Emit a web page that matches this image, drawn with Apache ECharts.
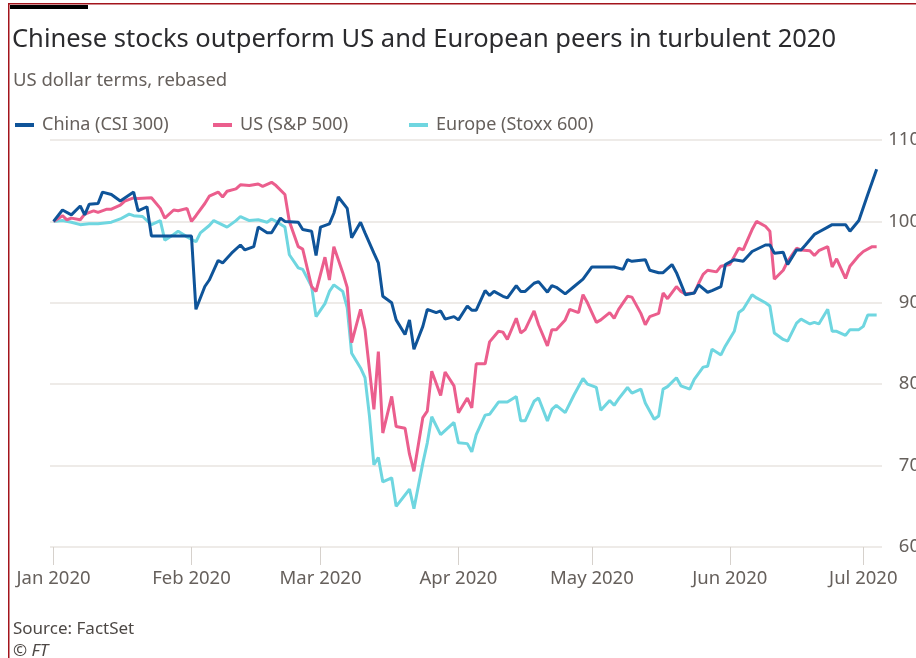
<!DOCTYPE html>
<html>
<head>
    <meta charset="utf-8">
    <title>Chinese stocks outperform US and European peers</title>
    <script src="https://cdn.jsdelivr.net/npm/echarts@6/dist/echarts.min.js"></script>
    <style>
        html, body { margin: 0; padding: 0; background: #fff; }
        #chart { width: 916px; height: 658px; }
    </style>
</head>
<body>
<div id="chart"></div>
<script>
    // month ticks (days since 1 Jan 2020) and their labels
    var monthTicks = [0, 31, 60, 91, 121, 152, 182];
    var monthLabels = ['Jan 2020', 'Feb 2020', 'Mar 2020', 'Apr 2020', 'May 2020', 'Jun 2020', 'Jul 2020'];

    // China (CSI 300), USD terms, rebased
    var chinaDates = ['01-01','01-03','01-05','01-07','01-08','01-09','01-11','01-12','01-14','01-16','01-19','01-20','01-22','01-23',
        '02-01','02-02','02-04','02-05','02-07','02-08','02-10','02-12','02-13','02-15','02-16','02-18','02-19','02-21','02-22','02-25','02-26','02-28','02-29',
        '03-01','03-03','03-04','03-05','03-07','03-08','03-10','03-11','03-13','03-14','03-15','03-17','03-18','03-20','03-21','03-22','03-24','03-25','03-27','03-28','03-29','03-31',
        '04-01','04-03','04-04','04-05','04-07','04-08','04-09','04-11','04-12','04-14','04-15','04-16','04-18','04-19','04-21','04-22','04-23','04-25','04-27','04-29',
        '05-01','05-06','05-08','05-09','05-10','05-13','05-14','05-16','05-17','05-19','05-20','05-22','05-24','05-25','05-27','05-28','05-30','05-31',
        '06-02','06-04','06-06','06-09','06-10','06-11','06-13','06-14','06-16','06-17','06-18','06-20','06-21','06-23','06-24','06-27','06-28','06-30',
        '07-02','07-04'];
    var chinaValues = [100, 101.4, 100.8, 101.9, 100.8, 102.1, 102.2, 103.6, 103.3, 102.5, 103.6, 101.3, 101.8, 98.2,
        98.2, 89.2, 92.0, 92.8, 95.2, 94.9, 96.1, 97.1, 96.5, 96.9, 99.3, 98.6, 98.6, 100.4, 100.0, 99.9, 99.0, 98.8, 95.8,
        99.3, 99.7, 101.0, 103.0, 101.6, 98.0, 99.9, 98.6, 96.1, 94.9, 90.8, 90.0, 87.9, 86.1, 87.9, 84.3, 87.1, 89.2, 88.8, 89.0, 88.0, 88.3,
        87.9, 89.6, 89.1, 89.1, 91.5, 90.9, 91.4, 90.8, 90.6, 92.1, 91.4, 91.4, 92.4, 92.6, 91.3, 92.1, 91.9, 91.1, 92.0, 92.9,
        94.4, 94.4, 94.1, 95.3, 95.1, 95.3, 94.0, 93.7, 93.7, 94.7, 93.7, 91.0, 91.2, 92.2, 91.3, 91.5, 92.0, 94.7,
        95.3, 95.1, 96.3, 97.1, 97.1, 96.1, 96.2, 94.7, 96.5, 96.5, 97.1, 98.4, 98.7, 99.3, 99.6, 99.6, 98.8, 100.1,
        103.3, 106.4];

    // US (S&P 500)
    var usDates = ['01-01','01-03','01-04','01-05','01-07','01-08','01-10','01-11','01-13','01-14','01-16','01-17','01-19','01-20','01-23','01-25','01-26','01-28','01-29','01-31',
        '02-01','02-02','02-04','02-05','02-07','02-08','02-09','02-11','02-12','02-14','02-16','02-17','02-19','02-20','02-22','02-23','02-25','02-26','02-28','02-29',
        '03-02','03-03','03-04','03-06','03-07','03-08','03-10','03-11','03-13','03-14','03-15','03-17','03-18','03-20','03-21','03-22','03-24','03-25','03-26','03-28','03-29','03-31',
        '04-01','04-03','04-04','04-05','04-07','04-08','04-10','04-11','04-12','04-14','04-15','04-16','04-18','04-19','04-21','04-22','04-23','04-25','04-26','04-28','04-29','04-30',
        '05-02','05-03','05-05','05-06','05-07','05-09','05-10','05-12','05-13','05-14','05-16','05-17','05-18','05-20','05-21','05-22','05-24','05-25','05-26','05-27','05-29','05-30',
        '06-01','06-02','06-03','06-04','06-06','06-07','06-09','06-10','06-11','06-13','06-14','06-16','06-17','06-19','06-20','06-21','06-23','06-24','06-25','06-27','06-28','06-30',
        '07-01','07-03','07-04'];
    var usValues = [100, 100.7, 100.2, 100.4, 100.2, 100.9, 101.3, 101.1, 101.5, 101.5, 102.0, 102.5, 102.9, 102.8, 102.9, 101.6, 100.4, 101.4, 101.3, 101.6,
        100.0, 100.7, 102.2, 103.1, 103.6, 103.0, 103.7, 104.0, 104.5, 104.4, 104.6, 104.3, 104.8, 104.4, 103.3, 100.0, 96.9, 96.6, 92.0, 91.4,
        95.6, 92.8, 96.9, 93.7, 91.9, 85.1, 89.2, 86.7, 76.9, 84.0, 74.0, 78.5, 74.8, 74.6, 71.4, 69.3, 75.9, 76.7, 81.6, 78.6, 81.5, 79.8,
        76.5, 78.3, 77.1, 82.5, 82.5, 85.2, 86.5, 86.4, 85.5, 88.1, 86.3, 86.7, 89.0, 87.3, 84.7, 86.7, 86.7, 87.9, 89.2, 88.8, 91.0, 90.0,
        87.6, 87.9, 88.8, 88.1, 89.2, 90.8, 90.7, 88.7, 87.3, 88.3, 88.7, 91.2, 90.5, 92.0, 91.4, 91.1, 91.2, 92.4, 93.5, 94.0, 93.8, 94.5,
        94.7, 95.7, 96.7, 96.5, 99.0, 100.0, 99.4, 98.8, 92.9, 94.0, 95.1, 96.7, 96.5, 96.4, 95.8, 96.4, 96.9, 94.4, 95.4, 93.0, 94.5, 95.8,
        96.3, 96.9, 96.9];

    // Europe (Stoxx 600)
    var euDates = ['01-01','01-03','01-05','01-07','01-09','01-11','01-14','01-16','01-18','01-19','01-21','01-23','01-25','01-26','01-28','01-29','01-31',
        '02-02','02-03','02-05','02-06','02-09','02-11','02-12','02-14','02-16','02-18','02-19','02-20','02-22','02-23','02-25','02-26','02-28','02-29',
        '03-02','03-03','03-04','03-06','03-07','03-08','03-10','03-11','03-12','03-13','03-14','03-15','03-17','03-18','03-21','03-22','03-24','03-25','03-26','03-28','03-31',
        '04-01','04-03','04-04','04-05','04-07','04-08','04-10','04-12','04-14','04-15','04-16','04-18','04-19','04-21','04-22','04-23','04-25','04-27','04-29','04-30',
        '05-02','05-03','05-05','05-06','05-07','05-09','05-10','05-12','05-13','05-15','05-16','05-17','05-18','05-20','05-21','05-23','05-24','05-26','05-27','05-28','05-30','05-31',
        '06-02','06-03','06-04','06-06','06-07','06-09','06-10','06-11','06-13','06-14','06-16','06-17','06-19','06-20','06-21','06-23','06-24','06-25','06-27','06-28','06-30',
        '07-01','07-02','07-04'];
    var euValues = [100, 100.1, 99.9, 99.6, 99.7, 99.7, 99.9, 100.3, 100.9, 100.7, 100.6, 99.6, 100.1, 97.7, 98.4, 98.8, 98.1,
        97.5, 98.6, 99.5, 100.1, 99.3, 100.1, 100.6, 100.1, 100.2, 99.9, 100.3, 100.0, 99.3, 95.9, 94.3, 94.1, 92.0, 88.3,
        89.9, 91.4, 92.2, 91.4, 89.4, 83.8, 82.0, 80.8, 76.1, 70.1, 71.0, 68.0, 68.5, 65.0, 67.1, 64.7, 70.3, 72.8, 76.0, 73.8, 75.3,
        72.8, 72.7, 71.7, 73.8, 76.2, 76.3, 77.8, 77.8, 78.5, 75.5, 75.5, 77.9, 78.3, 75.5, 76.9, 77.4, 76.5, 78.7, 80.7, 80.0,
        79.6, 76.8, 78.0, 77.4, 78.2, 79.6, 78.9, 79.4, 77.7, 75.7, 76.1, 79.4, 79.7, 80.8, 79.8, 79.4, 80.6, 82.1, 82.2, 84.3, 83.6, 84.7,
        86.5, 88.8, 89.2, 91.0, 90.6, 90.0, 89.6, 86.3, 85.5, 85.3, 87.5, 88.0, 87.4, 87.6, 87.4, 89.2, 86.5, 86.5, 86.0, 86.7, 86.7,
        87.1, 88.5, 88.5];

    // 'MM-DD' -> days since 1 Jan 2020
    function dayOf(s) {
        var p = s.split('-');
        return (Date.UTC(2020, +p[0] - 1, +p[1]) - Date.UTC(2020, 0, 1)) / 864e5;
    }
    function pairs(dates, values) {
        return dates.map(function (d, i) { return [dayOf(d), values[i]]; });
    }

    var grey = '#66605c';
    var font = 'Noto Sans';
    var myChart = echarts.init(document.getElementById('chart'));

    function legendAt(name, left) {
        return {
            data: [name],
            left: left,
            top: 111,
            icon: 'rect',
            itemWidth: 19,
            itemHeight: 4,
            itemGap: 0,
            textStyle: { color: grey, fontSize: 18, fontFamily: font, padding: [0, 0, 0, 3] },
            selectedMode: false
        };
    }

    var option = {
        animation: false,
        backgroundColor: '#fff',
        title: [
            {
                text: 'Chinese stocks outperform US and European peers in turbulent 2020',
                left: 7, top: 22,
                textStyle: { color: '#2b2b2e', fontSize: 25.5, fontWeight: 'normal', fontFamily: font }
            },
            {
                text: 'US dollar terms, rebased',
                left: 8, top: 66,
                textStyle: { color: grey, fontSize: 18.5, fontWeight: 'normal', fontFamily: font }
            },
            {
                text: 'Source: FactSet',
                left: 8, top: 616,
                textStyle: { color: '#4d4845', fontSize: 17, fontWeight: 'normal', fontFamily: font }
            },
            {
                text: '© FT',
                left: 8, top: 638,
                textStyle: { color: '#4d4845', fontSize: 17, fontWeight: 'normal', fontStyle: 'italic', fontFamily: font }
            }
        ],
        legend: [
            legendAt('China (CSI 300)', 10),
            legendAt('US (S&P 500)', 208),
            legendAt('Europe (Stoxx 600)', 404)
        ],
        grid: { left: 50, right: 34, top: 140, bottom: 111, containLabel: false, outerBoundsMode: 'none' },
        xAxis: {
            type: 'value',
            min: -0.8,
            max: 186.2,
            axisLine: { show: false },
            splitLine: { show: false },
            axisTick: { show: true, customValues: monthTicks, length: 18, lineStyle: { color: '#d6d1cc', width: 1 } },
            axisLabel: {
                customValues: monthTicks,
                margin: 22,
                color: grey, fontSize: 18.5, fontFamily: font,
                formatter: function (v) { return monthLabels[monthTicks.indexOf(v)]; }
            }
        },
        yAxis: {
            type: 'value',
            position: 'right',
            min: 60, max: 110, interval: 10,
            axisLine: { show: false },
            axisTick: { show: false },
            splitLine: { lineStyle: { color: '#e8e4e0', width: 1.5 } },
            axisLabel: { color: grey, fontSize: 18.5, fontFamily: font, align: 'right', margin: 38 }
        },
        series: [
            {
                name: 'Europe (Stoxx 600)', type: 'line', showSymbol: false, symbol: 'none',
                color: '#6fd6e0', lineStyle: { width: 3 },
                data: pairs(euDates, euValues)
            },
            {
                name: 'US (S&P 500)', type: 'line', showSymbol: false, symbol: 'none',
                color: '#eb5e8d', lineStyle: { width: 3 },
                data: pairs(usDates, usValues)
            },
            {
                name: 'China (CSI 300)', type: 'line', showSymbol: false, symbol: 'none',
                color: '#0f5499', lineStyle: { width: 3 },
                data: pairs(chinaDates, chinaValues)
            }
        ],
        graphic: [
            // frame lines of the clipping
            { type: 'rect', shape: { x: 8, y: 3, width: 908, height: 1.5 }, style: { fill: '#a3141c' } },
            { type: 'rect', shape: { x: 8, y: 3, width: 1.5, height: 655 }, style: { fill: '#a3141c' } },
            { type: 'rect', shape: { x: 10, y: 5, width: 78, height: 4 }, style: { fill: '#000' } }
        ]
    };
    myChart.setOption(option);
</script>
</body>
</html>
